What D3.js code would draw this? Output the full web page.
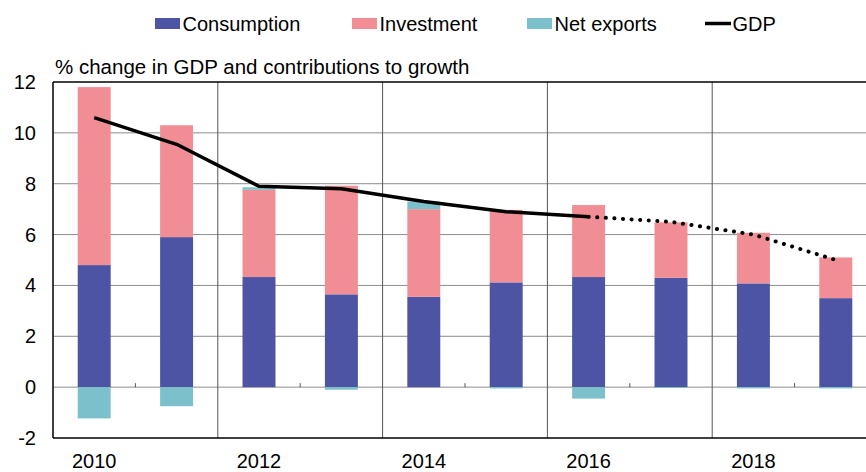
<!DOCTYPE html>
<html>
<head>
<meta charset="utf-8">
<script src="https://cdn.jsdelivr.net/npm/d3@7"></script>
<style>
  body { margin: 0; background: #fff; }
  svg { display: block; font-family: "Liberation Sans", Arial, sans-serif; }
</style>
</head>
<body>
<svg id="chart" width="866" height="472"></svg>
<script>
'use strict';

/* -- Data ------------------------------------------------------------------ */
const years = [2010, 2011, 2012, 2013, 2014, 2015, 2016, 2017, 2018, 2019];
const consumption = [4.8, 5.9, 4.33, 3.65, 3.55, 4.12, 4.33, 4.3, 4.08, 3.5];
const investment  = [7.0, 4.4, 3.43, 4.27, 3.45, 2.85, 2.83, 2.18, 1.99, 1.6];
const netExports  = [-1.23, -0.75, 0.1, -0.1, 0.3, -0.05, -0.45, -0.03, -0.05, -0.05];
const gdp         = [10.6, 9.55, 7.9, 7.8, 7.3, 6.9, 6.7, 6.5, 6.0, 5.0];
const lastActual  = 2016;   // line turns dotted after this year
const yTicks = [-2, 0, 2, 4, 6, 8, 10, 12];
const xTickYears = [2010, 2012, 2014, 2016, 2018];

const colors = { consumption: '#4c54a3', investment: '#f18d94', netExports: '#7bc0ca' };

/* -- Layout ---------------------------------------------------------------- */
const svg = d3.select('#chart');
const margin = { left: 53, top: 82, right: -11, bottom: 34 };
const W = 866, H = 472;
const plotL = margin.left, plotR = W - margin.right;
const plotT = margin.top, plotB = H - margin.bottom;

const x = d3.scaleBand().domain(years).range([plotL, plotR]).paddingInner(0.6).paddingOuter(0.3);
const step = x.step();
const y = d3.scaleLinear().domain([-2, 12]).range([plotB, plotT]);

/* -- Grid ------------------------------------------------------------------ */
const grid = svg.append('g');
grid.selectAll('line.h')
    .data(yTicks.filter(d => d !== -2 && d !== 12))
    .enter().append('line')
    .attr('x1', plotL).attr('x2', plotR)
    .attr('y1', d => y(d)).attr('y2', d => y(d))
    .attr('stroke', '#8c8c8c').attr('stroke-width', 1);

// vertical lines separate each two-year group
const bandStart = d => x(d) - x.paddingInner() * step / 2;
grid.selectAll('line.v')
    .data([2012, 2014, 2016, 2018])
    .enter().append('line')
    .attr('x1', d => bandStart(d)).attr('x2', d => bandStart(d))
    .attr('y1', plotT).attr('y2', plotB)
    .attr('stroke', '#555').attr('stroke-width', 1);

// minor ticks on the zero line
grid.selectAll('line.t')
    .data([2011, 2013, 2015, 2017, 2019])
    .enter().append('line')
    .attr('x1', d => bandStart(d)).attr('x2', d => bandStart(d))
    .attr('y1', y(0)).attr('y2', y(0) - 4)
    .attr('stroke', '#555').attr('stroke-width', 1);

/* -- Stacked bars ---------------------------------------------------------- */
const bars = svg.append('g');
years.forEach(function(yr, i) {
    const segs = [
        { key: 'consumption', v: consumption[i] },
        { key: 'investment', v: investment[i] },
        { key: 'netExports', v: netExports[i] }
    ];
    let pos = 0, neg = 0;
    segs.forEach(function(s) {
        let y0, y1;
        if (s.v >= 0) { y0 = pos; y1 = pos + s.v; pos = y1; }
        else { y0 = neg; y1 = neg + s.v; neg = y1; }
        bars.append('rect')
            .attr('x', x(yr))
            .attr('width', x.bandwidth())
            .attr('y', y(Math.max(y0, y1)))
            .attr('height', Math.abs(y(y0) - y(y1)))
            .attr('fill', colors[s.key]);
    });
});

/* -- Axes frame ------------------------------------------------------------ */
const frame = svg.append('g').attr('stroke', '#000').attr('stroke-width', 1.5);
frame.append('line').attr('x1', plotL).attr('x2', plotL).attr('y1', plotT).attr('y2', plotB);
frame.append('line').attr('x1', plotL).attr('x2', plotR).attr('y1', plotB).attr('y2', plotB);
frame.append('line').attr('x1', plotL).attr('x2', plotR).attr('y1', plotT).attr('y2', plotT);

/* -- GDP line -------------------------------------------------------------- */
const pts = years.map((yr, i) => ({ yr: yr, v: gdp[i] }));
const line = d3.line().x(d => x(d.yr) + x.bandwidth() / 2).y(d => y(d.v));
svg.append('path')
    .datum(pts.filter(d => d.yr <= lastActual))
    .attr('d', line)
    .attr('fill', 'none').attr('stroke', '#000').attr('stroke-width', 3.5)
    .attr('stroke-linejoin', 'round');
svg.append('path')
    .datum(pts.filter(d => d.yr >= lastActual))
    .attr('d', line)
    .attr('fill', 'none').attr('stroke', '#000').attr('stroke-width', 4)
    .attr('stroke-linecap', 'round').attr('stroke-dasharray', '0.1 8.5');

/* -- Tick labels ----------------------------------------------------------- */
svg.append('g').selectAll('text')
    .data(yTicks).enter().append('text')
    .attr('x', 36).attr('y', d => y(d)).attr('dy', '0.35em')
    .attr('text-anchor', 'end').attr('font-size', 20).attr('fill', '#000')
    .text(d => d);

svg.append('g').selectAll('text')
    .data(xTickYears).enter().append('text')
    .attr('x', d => x(d) + x.bandwidth() / 2).attr('y', 468)
    .attr('text-anchor', 'middle').attr('font-size', 20).attr('fill', '#000')
    .text(d => d);

/* -- Axis title ------------------------------------------------------------ */
svg.append('text')
    .attr('x', 55).attr('y', 74)
    .attr('font-size', 20.5).attr('fill', '#000')
    .text('% change in GDP and contributions to growth');

/* -- Legend ---------------------------------------------------------------- */
const legendItems = [
    { label: 'Consumption', color: colors.consumption, x: 155, type: 'rect' },
    { label: 'Investment', color: colors.investment, x: 352, type: 'rect' },
    { label: 'Net exports', color: colors.netExports, x: 527, type: 'rect' },
    { label: 'GDP', color: '#000', x: 705, type: 'line' }
];
const legend = svg.append('g');
legendItems.forEach(function(d) {
    if (d.type === 'rect') {
        legend.append('rect').attr('x', d.x).attr('y', 18).attr('width', 25).attr('height', 11).attr('fill', d.color);
    } else {
        legend.append('line').attr('x1', d.x).attr('x2', d.x + 26).attr('y1', 23.5).attr('y2', 23.5)
            .attr('stroke', d.color).attr('stroke-width', 3.5);
    }
    legend.append('text')
        .attr('x', d.x + 27.5).attr('y', 30.5)
        .attr('font-size', 20).attr('fill', '#000')
        .text(d.label);
});
</script>
</body>
</html>
